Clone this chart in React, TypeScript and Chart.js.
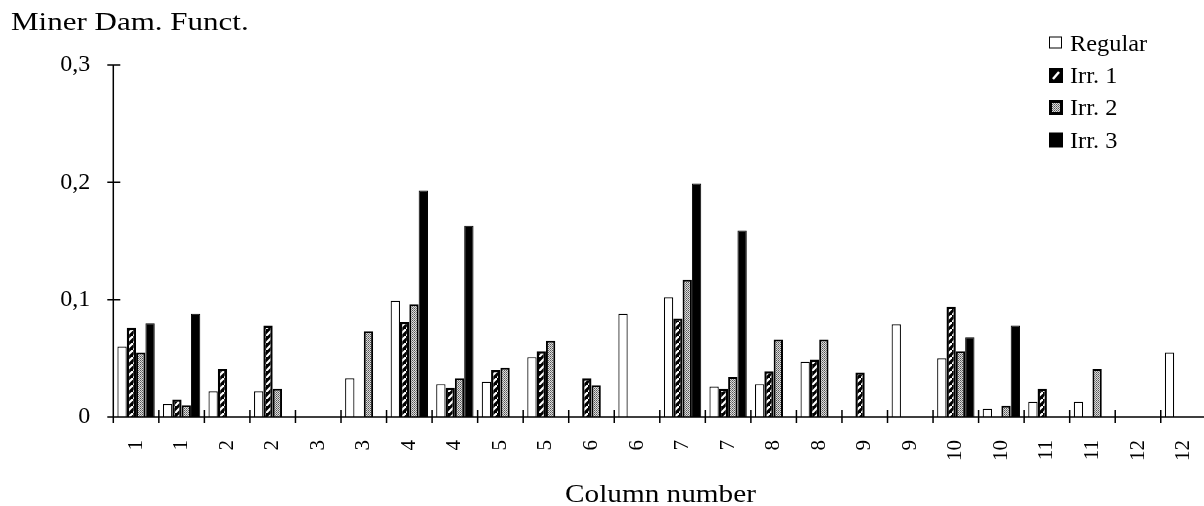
import React, { useEffect, useRef } from 'react';
import { Chart, registerables } from 'chart.js';

Chart.register(...registerables);

// ---- data ----
const categories = ['1', '1', '2', '2', '3', '3', '4', '4', '5', '5', '6', '6', '7', '7', '8', '8', '9', '9', '10', '10', '11', '11', '12', '12'];
const regular = [0.060, 0.011, 0.022, 0.022, null, 0.033, 0.099, 0.028, 0.030, 0.051, null, 0.088, 0.102, 0.026, 0.028, 0.047, null, 0.079, 0.050, 0.007, 0.013, 0.013, null, 0.055];
const irr1 = [0.076, 0.015, 0.041, 0.078, null, null, 0.081, 0.025, 0.040, 0.056, 0.033, null, 0.084, 0.024, 0.039, 0.049, 0.038, null, 0.094, null, 0.024, null, null, null];
const irr2 = [0.055, 0.010, null, 0.024, null, 0.073, 0.096, 0.033, 0.042, 0.065, 0.027, null, 0.117, 0.034, 0.066, 0.066, null, null, 0.056, 0.0095, null, 0.041, null, null];
const irr3 = [0.080, 0.088, null, null, null, null, 0.193, 0.163, null, null, null, null, 0.199, 0.159, null, null, null, null, 0.068, 0.078, null, null, null, null];
const seriesNames = ['Regular', 'Irr. 1', 'Irr. 2', 'Irr. 3'];
const yTickValues = [0, 0.1, 0.2, 0.3];
const yTitle = 'Miner Dam. Funct.';
const xTitle = 'Column number';

const SERIF = '"Liberation Serif", "Times New Roman", serif';

function makeHatch(): CanvasPattern | string {
  const c = document.createElement('canvas');
  c.width = 7; c.height = 7;
  const g = c.getContext('2d');
  if (!g) return '#000';
  g.fillStyle = '#000';
  g.fillRect(0, 0, 7, 7);
  g.strokeStyle = '#fff';
  g.lineWidth = 2.2;
  g.beginPath();
  g.moveTo(-1, 8); g.lineTo(8, -1);
  g.stroke();
  const p = g.createPattern(c, 'repeat');
  return p || '#000';
}

function makeDots(): CanvasPattern | string {
  const c = document.createElement('canvas');
  c.width = 2; c.height = 2;
  const g = c.getContext('2d');
  if (!g) return '#999';
  g.fillStyle = '#dcdcdc';
  g.fillRect(0, 0, 2, 2);
  g.fillStyle = '#555';
  g.fillRect(0, 0, 1, 1);
  g.fillStyle = '#808080';
  g.fillRect(1, 1, 1, 1);
  const p = g.createPattern(c, 'repeat');
  return p || '#999';
}

function fmtY(v: number): string {
  if (Math.abs(v) < 1e-9) return '0';
  return v.toFixed(1).replace('.', ',');
}

export default function App() {
  const ref = useRef<HTMLCanvasElement | null>(null);

  useEffect(() => {
    const canvas = ref.current;
    if (!canvas) return;
    const hatch = makeHatch();
    const dots = makeDots();
    const fills: any[] = ['#ffffff', hatch, dots, '#000000'];
    const borders = [1.2, 2.4, 2, 1];

    const axesPlugin = {
      id: 'customAxes',
      afterDatasetsDraw(chart: any) {
        const { ctx, chartArea, scales } = chart;
        const { left, right, top, bottom } = chartArea;
        const x = scales.x;
        const y = scales.y;
        ctx.save();
        ctx.strokeStyle = '#000';
        ctx.lineWidth = 1.5;
        ctx.beginPath();
        ctx.moveTo(left, top);
        ctx.lineTo(left, bottom + 6);
        ctx.moveTo(left, bottom);
        ctx.lineTo(chart.width, bottom);
        for (const v of yTickValues) {
          const py = y.getPixelForValue(v);
          ctx.moveTo(left - 6, py);
          ctx.lineTo(left + 7, py);
        }
        const n = categories.length;
        for (let i = 0; i <= n; i++) {
          let px: number;
          if (i === 0) px = left;
          else if (i === n) px = right;
          else px = (x.getPixelForValue(i - 1) + x.getPixelForValue(i)) / 2;
          ctx.moveTo(px, bottom - 7);
          ctx.lineTo(px, bottom + 6);
        }
        ctx.stroke();
        ctx.restore();
      },
      afterDraw(chart: any) {
        const ctx = chart.ctx;
        ctx.save();
        ctx.fillStyle = '#000';
        ctx.textBaseline = 'alphabetic';
        ctx.textAlign = 'left';
        // y title
        ctx.save();
        ctx.font = `25px ${SERIF}`;
        ctx.translate(11, 30);
        ctx.scale(1.24, 1);
        ctx.fillText(yTitle, 0, 0);
        ctx.restore();
        // x title
        ctx.save();
        ctx.font = `25px ${SERIF}`;
        ctx.translate(565, 502);
        ctx.scale(1.17, 1);
        ctx.fillText(xTitle, 0, 0);
        ctx.restore();
        // legend
        const baselines = [50.5, 83, 115, 147.5];
        for (let i = 0; i < 4; i++) {
          const b = baselines[i];
          const bx = 1049;
          const by = b - 15;
          if (i === 0) {
            ctx.fillStyle = '#fff';
            ctx.fillRect(bx, by + 1, 13, 12);
            ctx.strokeStyle = '#000';
            ctx.lineWidth = 1;
            ctx.strokeRect(bx + 0.5, by + 1.5, 12, 11);
          } else if (i === 1) {
            ctx.fillStyle = '#000';
            ctx.fillRect(bx, by, 14, 15);
            ctx.strokeStyle = '#fff';
            ctx.lineWidth = 2.5;
            ctx.beginPath();
            ctx.moveTo(bx + 4, by + 11);
            ctx.lineTo(bx + 10, by + 4);
            ctx.stroke();
          } else if (i === 2) {
            ctx.fillStyle = '#000';
            ctx.fillRect(bx, by, 14, 15);
            ctx.fillStyle = dots as any;
            ctx.fillRect(bx + 3, by + 3, 8, 9);
          } else {
            ctx.fillStyle = '#000';
            ctx.fillRect(bx, by, 14, 15);
          }
          ctx.save();
          ctx.fillStyle = '#000';
          ctx.font = `23px ${SERIF}`;
          ctx.translate(1070, b);
          ctx.scale(1.06, 1);
          ctx.fillText(seriesNames[i], 0, 0);
          ctx.restore();
        }
        ctx.restore();
      },
    };

    const series = [regular, irr1, irr2, irr3];
    const chart = new Chart(canvas, {
      type: 'bar',
      data: {
        labels: categories,
        datasets: series.map((d, i) => ({
          label: seriesNames[i],
          data: d as any,
          backgroundColor: fills[i],
          borderColor: '#000',
          borderWidth: borders[i],
          borderSkipped: 'bottom' as any,
          categoryPercentage: 0.82,
          barPercentage: 1.0,
        })),
      },
      options: {
        responsive: false,
        animation: false,
        devicePixelRatio: 1,
        layout: { padding: { left: 0, right: 7.7, top: 65, bottom: 0 } },
        plugins: {
          legend: { display: false },
          title: { display: false },
          tooltip: { enabled: false },
        },
        scales: {
          x: {
            offset: true,
            grid: { display: false, drawTicks: false },
            border: { display: false },
            ticks: {
              autoSkip: false,
              maxRotation: 90,
              minRotation: 90,
              padding: 23,
              color: '#000',
              font: { family: SERIF, size: 21 },
            },
            afterFit(scale: any) {
              scale.height = 89;
              scale.paddingLeft = 0;
              scale.paddingRight = 0;
            },
          },
          y: {
            min: 0,
            max: 0.3,
            grid: { display: false, drawTicks: false },
            border: { display: false },
            afterBuildTicks(scale: any) {
              scale.ticks = yTickValues.map((v) => ({ value: v }));
            },
            ticks: {
              padding: 23,
              color: '#000',
              font: { family: SERIF, size: 24 },
              callback: (v: any) => fmtY(Number(v)),
            },
            afterFit(scale: any) {
              scale.width = 113.3;
              scale.paddingTop = 0;
              scale.paddingBottom = 0;
            },
          },
        },
      },
      plugins: [axesPlugin],
    });
    return () => chart.destroy();
  }, []);

  return (
    <div style={{ position: 'fixed', left: 0, top: 0, width: 1204, height: 506, overflow: 'hidden', background: '#fff' }}>
      <canvas ref={ref} width={1214} height={506} style={{ display: 'block' }} />
    </div>
  );
}
